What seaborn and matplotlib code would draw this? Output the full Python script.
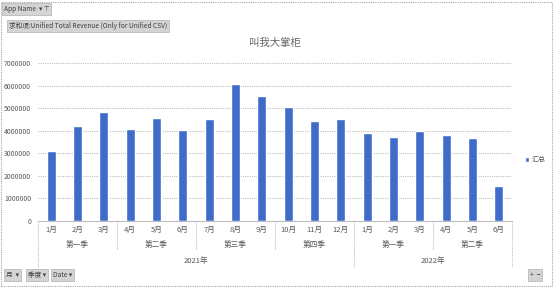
import matplotlib
matplotlib.use("Agg")
import matplotlib.pyplot as plt
import matplotlib.transforms as mtransforms
from matplotlib.patches import Rectangle, Patch
import seaborn as sns
import pandas as pd

sns.set_theme(style="white")
plt.rcParams['font.family'] = ['Noto Sans CJK SC', 'DejaVu Sans']

# ---- data ----
months = ["1月", "2月", "3月", "4月", "5月", "6月", "7月", "8月", "9月",
          "10月", "11月", "12月", "1月", "2月", "3月", "4月", "5月", "6月"]
quarters = ["第一季", "第二季", "第三季", "第四季", "第一季", "第二季"]
quarter_sizes = [3, 3, 3, 3, 3, 3]
years = ["2021年", "2022年"]
year_sizes = [12, 6]
values = [3120000, 4210000, 4840000, 4060000, 4560000, 4030000,
          4510000, 6090000, 5540000, 5040000, 4450000, 4510000,
          3910000, 3720000, 3990000, 3810000, 3680000, 1570000]
yticks = [0, 1000000, 2000000, 3000000, 4000000, 5000000, 6000000, 7000000]
title = "叫我大掌柜"
series_name = "汇总"

keys = [f"{i}:{m}" for i, m in enumerate(months)]
df = pd.DataFrame({"key": keys, "value": values})

W, H = 554, 287
fig = plt.figure(figsize=(W / 100, H / 100), dpi=100)
ax = fig.add_axes([38 / W, 66 / H, 474 / W, 158 / H])

bar_c = "#3F6CC8"
sns.barplot(data=df, x="key", y="value", order=keys, color=bar_c,
            saturation=1, width=0.34, ax=ax, label=series_name)

grid_c = "#bfbfbf"
txt_c = "#595959"
ax.set_ylim(0, 7000000)
ax.set_xlim(-0.5, len(keys) - 0.5)
ax.set_yticks(yticks)
ax.set_yticklabels([str(v) for v in yticks], fontsize=5, color=txt_c)
ax.tick_params(axis="y", length=0, pad=5)
ax.set_xticks([])
ax.set_xlabel("")
ax.set_ylabel("")
ax.yaxis.grid(True, linestyle=(0, (1, 1)), color=grid_c, linewidth=0.8)
ax.set_axisbelow(True)
for s in ["top", "right", "left"]:
    ax.spines[s].set_visible(False)
ax.spines["bottom"].set_color(grid_c)
ax.spines["bottom"].set_linestyle((0, (1, 1)))
ax.spines["bottom"].set_linewidth(0.8)

ax.set_title(title, fontsize=7.5, color="#666666", pad=12)

trans = mtransforms.blended_transform_factory(ax.transData, ax.transAxes)
# month labels
for i, m in enumerate(months):
    ax.text(i, -0.057, m, transform=trans, ha="center", va="center",
            fontsize=5.5, color=txt_c)
# quarter labels
pos = 0
for q, n in zip(quarters, quarter_sizes):
    ax.text(pos + (n - 1) / 2, -0.152, q, transform=trans, ha="center",
            va="center", fontsize=5.5, color=txt_c)
    pos += n
# year labels
pos = 0
year_bounds = [-0.5]
for y, n in zip(years, year_sizes):
    ax.text(pos + (n - 1) / 2, -0.253, y, transform=trans, ha="center",
            va="center", fontsize=5.5, color=txt_c)
    pos += n
    year_bounds.append(pos - 0.5)
# separators
pos = 0
for n in quarter_sizes:
    b = pos - 0.5
    bottom = -0.291 if b in year_bounds else -0.184
    ax.plot([b, b], [0, bottom], transform=trans, clip_on=False,
            color=grid_c, linewidth=0.8, linestyle=(0, (1, 1)))
    pos += n
b = pos - 0.5
ax.plot([b, b], [0, -0.291], transform=trans, clip_on=False,
        color=grid_c, linewidth=0.8, linestyle=(0, (1, 1)))

# legend
ax.legend(handles=[Patch(facecolor=bar_c, label=series_name)],
          loc="center left", bbox_to_anchor=(519 / W, 1 - 160 / H),
          bbox_transform=fig.transFigure, frameon=False, fontsize=5,
          handlelength=0.6, handleheight=0.6, handletextpad=0.4,
          labelcolor=txt_c)

# outer dotted border
fig.patches.append(Rectangle((1 / W, 1 / H), 1 - 3 / W, 1 - 3 / H,
                             transform=fig.transFigure, fill=False,
                             edgecolor="#a6a6a6", linewidth=0.8,
                             linestyle=(0, (1, 1))))

# field buttons
btn = dict(boxstyle="square,pad=0.25", facecolor="#d4d4d4",
           edgecolor="#b0b0b0", linewidth=0.5)
fig.text(4 / W, 1 - 9 / H, "App Name  ▾ ⊤", fontsize=4.8, color="#404040",
         va="center", ha="left", bbox=btn)
fig.text(9 / W, 1 - 26 / H, "求和项:Unified Total Revenue (Only for Unified CSV)",
         fontsize=4.8, color="#404040", va="center", ha="left", bbox=btn)
fig.text(6 / W, 1 - 275 / H, "月  ▾", fontsize=4.8, color="#404040",
         va="center", ha="left", bbox=btn)
fig.text(28 / W, 1 - 275 / H, "季度 ▾", fontsize=4.8, color="#404040",
         va="center", ha="left", bbox=btn)
fig.text(53 / W, 1 - 275 / H, "Date ▾", fontsize=4.8, color="#404040",
         va="center", ha="left", bbox=btn)
fig.text(530 / W, 1 - 275 / H, "+  −", fontsize=4.8, color="#404040",
         va="center", ha="left", bbox=btn)

fig.savefig("out.png", dpi=100)
